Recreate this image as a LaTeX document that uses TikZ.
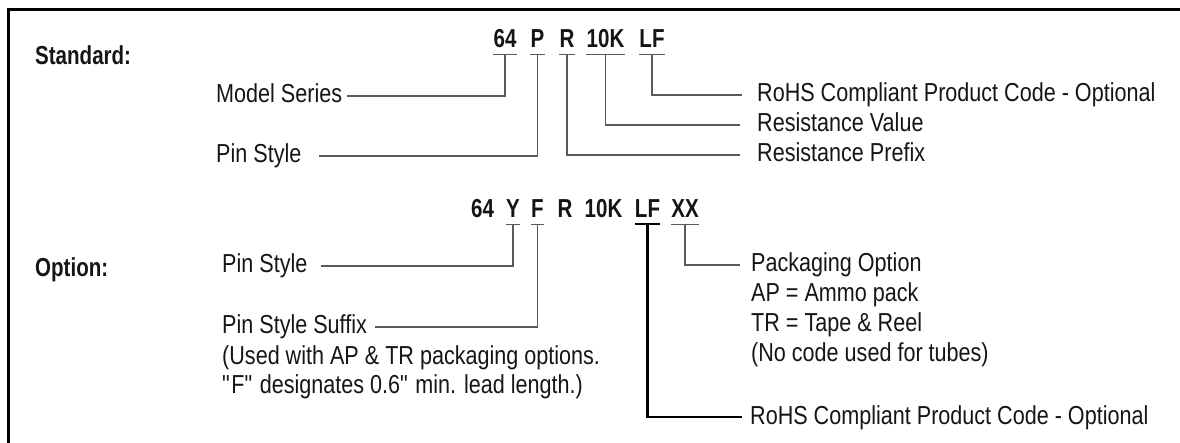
\documentclass[tikz,border=0pt]{standalone}
\usepackage{fontspec}
\setmainfont{Liberation Sans}[FakeStretch=0.83, BoldFeatures={FakeStretch=0.79}]
\usetikzlibrary{positioning}

\definecolor{ink}{HTML}{151515}
\definecolor{leadgrey}{HTML}{5A5A5A}

\tikzset{
  txt/.style={inner sep=0pt, text height=14pt, text depth=0pt, text=ink, anchor=west,
              font=\fontsize{26}{30}\selectfont},
  head/.style={txt, font=\fontsize{26}{30}\selectfont\bfseries},
  code/.style={inner sep=0pt, anchor=base, text=ink, font=\fontsize{26}{30}\selectfont\bfseries},
  wire/.style={draw=leadgrey, line width=1.3pt},
  wireblk/.style={draw=black, line width=2.4pt},
}

\begin{document}
\begin{tikzpicture}[x=1pt, y=-1pt]
    \useasboundingbox (0,0) rectangle (1180,443);

    % frame (top and left edge only)
    \draw[line width=3pt] (8.5,443) -- (8.5,9.5) -- (1180,9.5);

    % standard part number
    \node[head] (stdhead) at (35,58) {Standard:};
    \node[code] (s64) at (505,48) {64};
    \node[code] (sP) at (537.5,48) {P};
    \node[code] (sR) at (567,48) {R};
    \node[code] (s10K) at (605.5,48) {10K};
    \node[code] (sLF) at (652,48) {LF};

    % standard labels
    \node[txt] (model) at (216,96) {Model Series};
    \node[txt] (pinA) at (216,156) {Pin Style};
    \node[txt] (rohsA) at (757,95) {RoHS Compliant Product Code - Optional};
    \node[txt] (resval) at (757,125) {Resistance Value};
    \node[txt] (respre) at (757,155) {Resistance Prefix};

    % standard leaders
    \draw[wire] ([yshift=-6pt]s64.south) |- ([xshift=5pt]model.east);
    \draw[wire] ([yshift=-6pt]sP.south) |- ([xshift=17pt]pinA.east);
    \draw[wire] ([yshift=-6pt]sR.south) |- ([xshift=-17pt]respre.west);
    \draw[wire] ([yshift=-6pt]s10K.south) |- ([xshift=-17pt]resval.west);
    \draw[wire] ([yshift=-6pt]sLF.south) |- ([xshift=-15pt]rohsA.west);

    % option part number
    \node[head] (opthead) at (35,270) {Option:};
    \node[code] (o64) at (482.5,218) {64};
    \node[code] (oY) at (513,218) {Y};
    \node[code] (oF) at (537.5,218) {F};
    \node[code] (oR) at (565,218) {R};
    \node[code] (o10K) at (603.5,218) {10K};
    \node[code] (oLF) at (647.5,218) {LF};
    \node[code] (oXX) at (685,218) {XX};

    % underlines
    \foreach \c in {s64,sP,sR,s10K,sLF,oY,oF,oXX}
        \draw[wire] ([yshift=-6pt]\c.south west) -- ([yshift=-6pt]\c.south east);

    % option labels
    \node[txt] (pinB) at (222,266) {Pin Style};
    \node[txt] (suffix) at (222,327) {Pin Style Suffix};
    \node[txt, below=30pt of suffix.west, anchor=west] (used1) {(Used with AP \& TR packaging options.};
    \node[txt, below=29pt of used1.west, anchor=west] (used2) {\textquotedbl F\textquotedbl{} designates 0.6\textquotedbl{} min. lead length.)};
    \node[txt] (pack) at (751,265) {Packaging Option};
    \node[txt, below=30pt of pack.west, anchor=west] (ap) {AP = Ammo pack};
    \node[txt, below=30pt of ap.west, anchor=west] (tr) {TR = Tape \& Reel};
    \node[txt, below=30pt of tr.west, anchor=west] (nocode) {(No code used for tubes)};
    \node[txt] (rohsB) at (750,417) {RoHS Compliant Product Code - Optional};

    % option leaders
    \draw[wireblk] ([yshift=-6pt]oLF.south west) -- ([yshift=-6pt]oLF.south east);
    \draw[wire] ([yshift=-6pt]oY.south) |- ([xshift=13pt]pinB.east);
    \draw[wire] ([yshift=-6pt]oF.south) |- ([xshift=8pt]suffix.east);
    \draw[wire] ([yshift=-6pt]oXX.south) |- ([xshift=-11pt]pack.west);
    \draw[wireblk] ([yshift=-6pt]oLF.south) |- ([xshift=-8pt]rohsB.west);
\end{tikzpicture}
\end{document}
